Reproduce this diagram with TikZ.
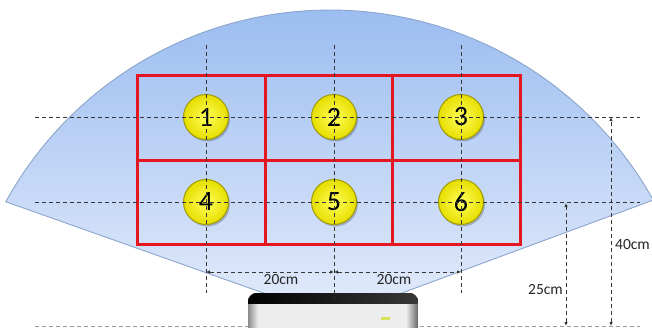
\documentclass[tikz,border=0pt]{standalone}
\usepackage{fontspec}
\setmainfont{Carlito}
\usetikzlibrary{arrows.meta}

\definecolor{fanedge}{RGB}{140,165,205}
\definecolor{fantop}{RGB}{156,189,240}
\definecolor{fanbot}{RGB}{228,236,251}
\definecolor{gridred}{RGB}{230,22,32}
\definecolor{guide}{RGB}{55,55,55}
\definecolor{ballin}{RGB}{255,255,90}
\definecolor{ballout}{RGB}{230,222,0}
\definecolor{ballrim}{RGB}{160,155,0}
\definecolor{led}{RGB}{215,225,90}

\begin{document}
\begin{tikzpicture}[x=1pt,y=-1pt,
  cellbox/.style={rectangle, draw=gridred, line width=3pt, inner sep=0pt, outer sep=0pt},
  ballnode/.style={circle, minimum size=45pt, inner sep=0pt,
    shading=radial, inner color=ballin, outer color=ballout,
    draw=ballrim, line width=1pt,
    preaction={fill=black, opacity=0.22, transform canvas={shift={(1.5pt,-2pt)}}},
    font=\fontsize{28}{28}\selectfont, text=black},
  guideline/.style={draw=guide, line width=0.8pt, dash pattern=on 4pt off 3pt},
  baseline/.style={draw=black!40, line width=0.8pt, dash pattern=on 4pt off 3pt},
  dimline/.style={draw=guide, line width=0.8pt, dash pattern=on 4pt off 3pt,
    {Latex[length=4pt,width=3.5pt]}-{Latex[length=4pt,width=3.5pt]}},
  dimlabel/.style={font=\fontsize{15.5}{16}\selectfont, text=black!85, inner sep=1pt}
]
\useasboundingbox (0,0) rectangle (652,327);
\fill[white] (0,0) rectangle (652,327);

% field of view fan
\path[draw=fanedge, line width=0.9pt, top color=fantop, bottom color=fanbot]
  plot[domain=151.2:29.1, samples=90] ({330+370*cos(\x)},{380-370*sin(\x)})
  -- (410,290) -- (334,318) -- (255,290) -- cycle;

% red zone grid
\node[cellbox, minimum width=128pt, minimum height=85pt] (cell1) at (201,117.5) {};
\node[cellbox, minimum width=127pt, minimum height=85pt] (cell2) at (328.5,117.5) {};
\node[cellbox, minimum width=128pt, minimum height=85pt] (cell3) at (456,117.5) {};
\node[cellbox, minimum width=128pt, minimum height=84pt] (cell4) at (201,202) {};
\node[cellbox, minimum width=127pt, minimum height=84pt] (cell5) at (328.5,202) {};
\node[cellbox, minimum width=128pt, minimum height=84pt] (cell6) at (456,202) {};

% numbered markers
\node[ballnode] (b1) at (206,117) {1};
\node[ballnode] (b2) at (334,117) {2};
\node[ballnode] (b3) at (461,117) {3};
\node[ballnode] (b4) at (206,202) {4};
\node[ballnode] (b5) at (334,202) {5};
\node[ballnode] (b6) at (461,202) {6};

% guide line end points
\coordinate (h1l) at (35,117);  \coordinate (h1r) at (640,117);
\coordinate (h2l) at (35,202);  \coordinate (h2r) at (640,202);
\coordinate (bl)  at (35,326);  \coordinate (br)  at (640,326);
\coordinate (v1t) at (206,45);  \coordinate (v1b) at (206,293);
\coordinate (v2t) at (334,45);  \coordinate (v2b) at (334,299);
\coordinate (v3t) at (461,45);  \coordinate (v3b) at (461,293);

% dashed guides
\draw[guideline] (h1l) -- (h1r);
\draw[guideline] (h2l) -- (h2r);
\draw[baseline] (bl) -- (br);
\draw[guideline] (v1t) -- (v1b);
\draw[guideline] (v3t) -- (v3b);

% sensor device
\begin{scope}
  \clip (240,285) rectangle (430,327);
  \fill[black!7, rounded corners=9pt] (248,293) rectangle (418,345);
  \begin{scope}
    \clip[rounded corners=9pt] (248,293) rectangle (418,345);
    \fill[left color=black!45, right color=black!7] (248,293) rectangle (258,345);
    \fill[left color=black!7, right color=black!60] (406,293) rectangle (418,345);
    \fill[left color=black, right color=black!78] (248,293) rectangle (418,303);
  \end{scope}
  \fill[led] (381,317) rectangle (390,319.5);
\end{scope}
\draw[guideline] (v2t) -- (v2b);

% dimensions
\coordinate (d1) at (206,272);
\coordinate (d2) at (334,272);
\coordinate (d3) at (461,272);
\coordinate (e1b) at (566,326); \coordinate (e1t) at (566,203);
\coordinate (e2b) at (611,326); \coordinate (e2t) at (611,117);
\draw[dimline] (d1) -- (d2);
\draw[dimline] (d2) -- (d3);
\draw[dimline] (e1b) -- (e1t);
\draw[dimline] (e2b) -- (e2t);

\node[dimlabel] (w1) at (281,280) {20cm};
\node[dimlabel] (w2) at (394,280) {20cm};
\node[dimlabel, anchor=east] (hh1) at (564,290) {25cm};
\node[dimlabel, anchor=west] (hh2) at (614,245) {40cm};
\end{tikzpicture}
\end{document}
